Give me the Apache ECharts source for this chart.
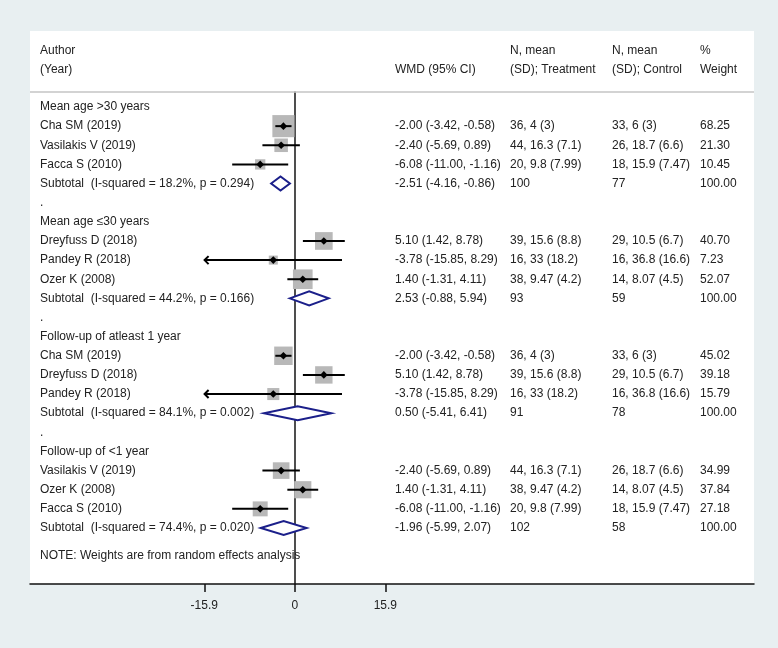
<!DOCTYPE html>
<html><head><meta charset="utf-8">
<script src="https://cdn.jsdelivr.net/npm/echarts@6/dist/echarts.min.js"></script>
<style>html,body{margin:0;padding:0;background:#e8eff1}#c{width:778px;height:648px}</style>
</head><body><div id="c"></div>
<script>
// ---------- data ----------
const rowLabels = [
  'Mean age >30 years','Cha SM (2019)','Vasilakis V (2019)','Facca S (2010)','Subtotal  (I-squared = 18.2%, p = 0.294)','.',
  'Mean age \u226430 years','Dreyfuss D (2018)','Pandey R (2018)','Ozer K (2008)','Subtotal  (I-squared = 44.2%, p = 0.166)','.',
  'Follow-up of atleast 1 year','Cha SM (2019)','Dreyfuss D (2018)','Pandey R (2018)','Subtotal  (I-squared = 84.1%, p = 0.002)','.',
  'Follow-up of <1 year','Vasilakis V (2019)','Ozer K (2008)','Facca S (2010)','Subtotal  (I-squared = 74.4%, p = 0.020)'
];
// row kind: 0 heading / blank, 1 study, 2 subtotal
const rowKind = [0,1,1,1,2,0, 0,1,1,1,2,0, 0,1,1,1,2,0, 0,1,1,1,2];
const estimates = [null,-2.00,-2.40,-6.08,-2.51,null, null,5.10,-3.78,1.40,2.53,null, null,-2.00,5.10,-3.78,0.50,null, null,-2.40,1.40,-6.08,-1.96];
const lowerCI   = [null,-3.42,-5.69,-11.00,-4.16,null, null,1.42,-15.85,-1.31,-0.88,null, null,-3.42,1.42,-15.85,-5.41,null, null,-5.69,-1.31,-11.00,-5.99];
const upperCI   = [null,-0.58,0.89,-1.16,-0.86,null, null,8.78,8.29,4.11,5.94,null, null,-0.58,8.78,8.29,6.41,null, null,0.89,4.11,-1.16,2.07];
const treatment = ['','36, 4 (3)','44, 16.3 (7.1)','20, 9.8 (7.99)','100','', '','39, 15.6 (8.8)','16, 33 (18.2)','38, 9.47 (4.2)','93','', '','36, 4 (3)','39, 15.6 (8.8)','16, 33 (18.2)','91','', '','44, 16.3 (7.1)','38, 9.47 (4.2)','20, 9.8 (7.99)','102'];
const control   = ['','33, 6 (3)','26, 18.7 (6.6)','18, 15.9 (7.47)','77','', '','29, 10.5 (6.7)','16, 36.8 (16.6)','14, 8.07 (4.5)','59','', '','33, 6 (3)','29, 10.5 (6.7)','16, 36.8 (16.6)','78','', '','26, 18.7 (6.6)','14, 8.07 (4.5)','18, 15.9 (7.47)','58'];
const weights   = [null,68.25,21.30,10.45,100,null, null,40.70,7.23,52.07,100,null, null,45.02,39.18,15.79,100,null, null,34.99,37.84,27.18,100];
const xTicks = [-15.9, 0, 15.9];
const noteText = 'NOTE: Weights are from random effects analysis';

// ---------- build ----------
const FONT = '12px "Liberation Sans", Arial, sans-serif';
const TXT = '#222222';
const forestData = [];
rowKind.forEach((k, i) => {
  if (k > 0) forestData.push([estimates[i], i + 1, lowerCI[i], upperCI[i], weights[i], k]);
});
const tableData = rowLabels.map((_, i) => [0, i + 1, i]);
tableData.push([0, 24.46, -1]);

function fmt(v){ return v.toFixed(2); }

function renderForest(params, api) {
  const e = api.value(0), r = api.value(1), l = api.value(2), h = api.value(3), w = api.value(4), k = api.value(5);
  const pc = api.coord([e, r]), pl = api.coord([l, r]), ph = api.coord([h, r]);
  const y = pc[1];
  if (k === 2) {
    return {type: 'polygon', shape: {points: [[pl[0], y], [pc[0], y - 7], [ph[0], y], [pc[0], y + 7]]},
      style: {fill: '#ffffff', stroke: '#1b1f8a', lineWidth: 2}};
  }
  const s = 2.7 + 2.35 * Math.sqrt(w);
  const children = [
    {type: 'rect', shape: {x: pc[0] - s / 2, y: y - s / 2, width: s, height: s}, style: {fill: '#b8b8b8'}},
    {type: 'line', shape: {x1: pl[0], y1: y, x2: ph[0], y2: y}, style: {stroke: '#000', lineWidth: 2}}
  ];
  if (l <= xTicks[0] + 0.1) {
    children.push({type: 'polyline', shape: {points: [[pl[0] + 4, y - 4], [pl[0], y], [pl[0] + 4, y + 4]]},
      style: {stroke: '#000', lineWidth: 2, fill: null}});
  }
  children.push({type: 'polygon', shape: {points: [[pc[0] - 3.8, y], [pc[0], y - 3.8], [pc[0] + 3.8, y], [pc[0], y + 3.8]]},
    style: {fill: '#000'}});
  return {type: 'group', children};
}

const COLS = [40, 395, 510, 612, 700];
function renderTable(params, api) {
  const r = api.value(1), i = api.value(2);
  const y = api.coord([0, r])[1];
  const t = (x, s) => ({type: 'text', x, y, style: {text: s, font: FONT, fill: TXT, verticalAlign: 'middle', align: 'left'}});
  if (i < 0) return {type: 'group', children: [t(COLS[0], noteText)]};
  const ch = [t(COLS[0], rowLabels[i])];
  if (rowKind[i] > 0) {
    ch.push(t(COLS[1], fmt(estimates[i]) + ' (' + fmt(lowerCI[i]) + ', ' + fmt(upperCI[i]) + ')'));
    ch.push(t(COLS[2], treatment[i]));
    ch.push(t(COLS[3], control[i]));
    ch.push(t(COLS[4], fmt(weights[i])));
  }
  return {type: 'group', children: ch};
}

const hdr = (x, y, s) => ({type: 'text', x, y, style: {text: s, font: FONT, fill: TXT, verticalAlign: 'middle'}});

const chart = echarts.init(document.getElementById('c'));
chart.setOption({
  backgroundColor: '#e8eff1',
  animation: false,
  graphic: [
    {type: 'rect', shape: {x: 30, y: 31, width: 724, height: 553}, style: {fill: '#ffffff'}, z: -10},
    {type: 'line', shape: {x1: 30, y1: 92, x2: 754, y2: 92}, style: {stroke: '#c4c4c4', lineWidth: 1.5}, z: 1},
    hdr(40, 51, 'Author'), hdr(40, 70, '(Year)'),
    hdr(395, 70, 'WMD (95% CI)'),
    hdr(510, 51, 'N, mean'), hdr(510, 70, '(SD); Treatment'),
    hdr(612, 51, 'N, mean'), hdr(612, 70, '(SD); Control'),
    hdr(700, 51, '%'), hdr(700, 70, 'Weight')
  ],
  grid: {left: 30, top: 92, width: 724, height: 492, containLabel: false},
  xAxis: {
    type: 'value', min: -46.52, max: 80.67, position: 'bottom',
    axisLine: {onZero: false, lineStyle: {color: '#111', width: 1.5}},
    axisTick: {show: true, customValues: xTicks, length: 8, inside: false, lineStyle: {color: '#111', width: 1.5}},
    axisLabel: {customValues: xTicks, margin: 16, color: TXT, fontSize: 12, fontFamily: '"Liberation Sans", Arial, sans-serif',
      formatter: v => String(v)},
    splitLine: {show: false}
  },
  yAxis: {
    type: 'value', min: 0.216, max: 25.926, inverse: true,
    axisLine: {show: true, onZero: true, lineStyle: {color: '#222', width: 1.6}},
    axisTick: {show: false}, axisLabel: {show: false}, splitLine: {show: false}
  },
  series: [
    {type: 'custom', renderItem: renderTable, data: tableData, clip: false, z: 3, silent: true},
    {type: 'custom', renderItem: renderForest, data: forestData, clip: false, z: 5, silent: true}
  ]
});
</script>
</body></html>
